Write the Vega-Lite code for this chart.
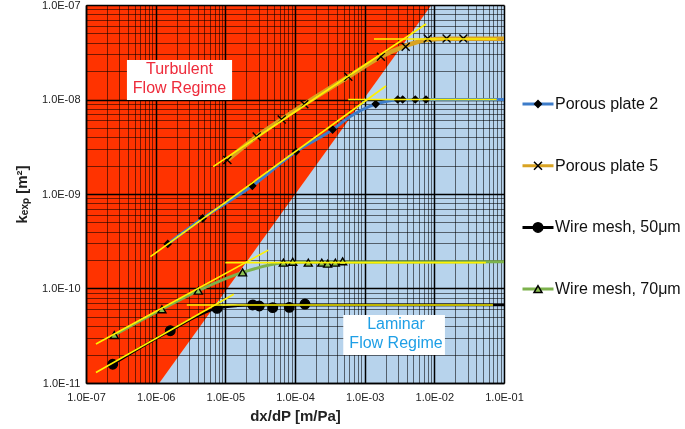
{
  "$schema": "https://vega.github.io/schema/vega-lite/v6.json",
  "width": 418,
  "height": 378,
  "autosize": {"type": "none"},
  "padding": {"left": 86, "top": 5, "right": 181, "bottom": 46},
  "background": "white",
  "view": {"stroke": null, "fill": "white"},
  "config": {"font": "Liberation Sans"},
  "datasets": {
    "red": [
      {"dxdp": 1e-7, "k": 1e-11, "k2": 1e-7},
      {"dxdp": 1.13e-6, "k": 1e-11, "k2": 1e-7},
      {"dxdp": 9.1e-3, "k": 1e-7, "k2": 1e-7}
    ],
    "blue": [
      {"dxdp": 1.13e-6, "k": 1e-11, "k2": 1e-11},
      {"dxdp": 9.1e-3, "k": 1e-7, "k2": 1e-11},
      {"dxdp": 1e-1, "k": 1e-7, "k2": 1e-11}
    ],
    "curves": [
      {"series": "Porous plate 2", "dxdp": 1.49e-6, "k": 2.96e-10},
      {"series": "Porous plate 2", "dxdp": 4.73e-6, "k": 5.53e-10},
      {"series": "Porous plate 2", "dxdp": 2.44e-5, "k": 1.22e-9},
      {"series": "Porous plate 2", "dxdp": 1.03e-4, "k": 2.8e-9},
      {"series": "Porous plate 2", "dxdp": 3.47e-4, "k": 4.8e-9},
      {"series": "Porous plate 2", "dxdp": 6.2e-4, "k": 6.6e-9},
      {"series": "Porous plate 2", "dxdp": 1.44e-3, "k": 8.95e-9},
      {"series": "Porous plate 2", "dxdp": 3e-3, "k": 9.9e-9},
      {"series": "Porous plate 2", "dxdp": 7.6e-3, "k": 1.0e-8},
      {"series": "Porous plate 2", "dxdp": 1e-1, "k": 1.0e-8},
      {"series": "Porous plate 5", "dxdp": 1.07e-5, "k": 2.29e-9},
      {"series": "Porous plate 5", "dxdp": 2.82e-5, "k": 4.05e-9},
      {"series": "Porous plate 5", "dxdp": 6.44e-5, "k": 6.16e-9},
      {"series": "Porous plate 5", "dxdp": 1.36e-4, "k": 8.89e-9},
      {"series": "Porous plate 5", "dxdp": 5.82e-4, "k": 1.74e-8},
      {"series": "Porous plate 5", "dxdp": 1.71e-3, "k": 2.84e-8},
      {"series": "Porous plate 5", "dxdp": 3.88e-3, "k": 3.7e-8},
      {"series": "Porous plate 5", "dxdp": 8e-3, "k": 4.3e-8},
      {"series": "Porous plate 5", "dxdp": 1.5e-2, "k": 4.4e-8},
      {"series": "Porous plate 5", "dxdp": 1e-1, "k": 4.4e-8},
      {"series": "Wire mesh, 50μm", "dxdp": 2.42e-7, "k": 1.58e-11},
      {"series": "Wire mesh, 50μm", "dxdp": 1.62e-6, "k": 3.57e-11},
      {"series": "Wire mesh, 50μm", "dxdp": 7.6e-6, "k": 6.16e-11},
      {"series": "Wire mesh, 50μm", "dxdp": 1.5e-5, "k": 6.55e-11},
      {"series": "Wire mesh, 50μm", "dxdp": 2.5e-5, "k": 6.65e-11},
      {"series": "Wire mesh, 50μm", "dxdp": 1e-1, "k": 6.7e-11},
      {"series": "Wire mesh, 70μm", "dxdp": 2.55e-7, "k": 3.22e-11},
      {"series": "Wire mesh, 70μm", "dxdp": 1.23e-6, "k": 6.03e-11},
      {"series": "Wire mesh, 70μm", "dxdp": 4.09e-6, "k": 9.48e-11},
      {"series": "Wire mesh, 70μm", "dxdp": 1.77e-5, "k": 1.48e-10},
      {"series": "Wire mesh, 70μm", "dxdp": 6.8e-5, "k": 1.87e-10},
      {"series": "Wire mesh, 70μm", "dxdp": 1.2e-4, "k": 1.9e-10},
      {"series": "Wire mesh, 70μm", "dxdp": 1e-1, "k": 1.92e-10}
    ],
    "points": [
      {"sample": "Porous plate 2", "dxdp": 1.49e-6, "k": 2.96e-10},
      {"sample": "Porous plate 2", "dxdp": 4.73e-6, "k": 5.53e-10},
      {"sample": "Porous plate 2", "dxdp": 2.44e-5, "k": 1.22e-9},
      {"sample": "Porous plate 2", "dxdp": 1.03e-4, "k": 2.8e-9},
      {"sample": "Porous plate 2", "dxdp": 3.47e-4, "k": 4.8e-9},
      {"sample": "Porous plate 2", "dxdp": 1.44e-3, "k": 8.95e-9},
      {"sample": "Porous plate 2", "dxdp": 2.98e-3, "k": 1.0e-8},
      {"sample": "Porous plate 2", "dxdp": 3.51e-3, "k": 1.0e-8},
      {"sample": "Porous plate 2", "dxdp": 5.33e-3, "k": 1.0e-8},
      {"sample": "Porous plate 2", "dxdp": 7.59e-3, "k": 1.0e-8},
      {"sample": "Porous plate 5", "dxdp": 1.07e-5, "k": 2.29e-9},
      {"sample": "Porous plate 5", "dxdp": 2.82e-5, "k": 4.05e-9},
      {"sample": "Porous plate 5", "dxdp": 6.44e-5, "k": 6.16e-9},
      {"sample": "Porous plate 5", "dxdp": 1.36e-4, "k": 8.89e-9},
      {"sample": "Porous plate 5", "dxdp": 5.82e-4, "k": 1.74e-8},
      {"sample": "Porous plate 5", "dxdp": 1.71e-3, "k": 2.84e-8},
      {"sample": "Porous plate 5", "dxdp": 3.88e-3, "k": 3.62e-8},
      {"sample": "Porous plate 5", "dxdp": 8.03e-3, "k": 4.43e-8},
      {"sample": "Porous plate 5", "dxdp": 1.5e-2, "k": 4.43e-8},
      {"sample": "Porous plate 5", "dxdp": 2.61e-2, "k": 4.43e-8},
      {"sample": "Wire mesh, 50μm", "dxdp": 2.42e-7, "k": 1.58e-11},
      {"sample": "Wire mesh, 50μm", "dxdp": 1.62e-6, "k": 3.57e-11},
      {"sample": "Wire mesh, 50μm", "dxdp": 7.6e-6, "k": 6.16e-11},
      {"sample": "Wire mesh, 50μm", "dxdp": 2.47e-5, "k": 6.7e-11},
      {"sample": "Wire mesh, 50μm", "dxdp": 3.07e-5, "k": 6.53e-11},
      {"sample": "Wire mesh, 50μm", "dxdp": 4.79e-5, "k": 6.27e-11},
      {"sample": "Wire mesh, 50μm", "dxdp": 8.28e-5, "k": 6.32e-11},
      {"sample": "Wire mesh, 50μm", "dxdp": 1.39e-4, "k": 6.85e-11},
      {"sample": "Wire mesh, 70μm", "dxdp": 2.55e-7, "k": 3.22e-11},
      {"sample": "Wire mesh, 70μm", "dxdp": 1.23e-6, "k": 6.03e-11},
      {"sample": "Wire mesh, 70μm", "dxdp": 4.09e-6, "k": 9.48e-11},
      {"sample": "Wire mesh, 70μm", "dxdp": 1.77e-5, "k": 1.48e-10},
      {"sample": "Wire mesh, 70μm", "dxdp": 6.8e-5, "k": 1.875e-10},
      {"sample": "Wire mesh, 70μm", "dxdp": 9.27e-5, "k": 1.92e-10},
      {"sample": "Wire mesh, 70μm", "dxdp": 1.55e-4, "k": 1.875e-10},
      {"sample": "Wire mesh, 70μm", "dxdp": 2.42e-4, "k": 1.875e-10},
      {"sample": "Wire mesh, 70μm", "dxdp": 2.94e-4, "k": 1.83e-10},
      {"sample": "Wire mesh, 70μm", "dxdp": 3.79e-4, "k": 1.875e-10},
      {"sample": "Wire mesh, 70μm", "dxdp": 4.83e-4, "k": 1.94e-10}
    ],
    "fits": [
      {"fit": "p2 turbulent", "dxdp": 8.4e-7, "k": 2.17e-10},
      {"fit": "p2 turbulent", "dxdp": 2.02e-3, "k": 1.39e-8},
      {"fit": "p2 laminar", "dxdp": 5.8e-4, "k": 1.0e-8},
      {"fit": "p2 laminar", "dxdp": 7.85e-2, "k": 1.0e-8},
      {"fit": "p5 turbulent", "dxdp": 6.7e-6, "k": 1.95e-9},
      {"fit": "p5 turbulent", "dxdp": 7.6e-3, "k": 6.3e-8},
      {"fit": "p5 laminar", "dxdp": 1.36e-3, "k": 4.37e-8},
      {"fit": "p5 laminar", "dxdp": 7.85e-2, "k": 4.37e-8},
      {"fit": "w50 turbulent", "dxdp": 1.39e-7, "k": 1.29e-11},
      {"fit": "w50 turbulent", "dxdp": 1.32e-5, "k": 8.69e-11},
      {"fit": "w50 laminar", "dxdp": 2.8e-6, "k": 6.7e-11},
      {"fit": "w50 laminar", "dxdp": 6.95e-2, "k": 6.7e-11},
      {"fit": "w70 turbulent", "dxdp": 1.39e-7, "k": 2.59e-11},
      {"fit": "w70 turbulent", "dxdp": 4.14e-5, "k": 2.55e-10},
      {"fit": "w70 laminar", "dxdp": 1e-5, "k": 1.88e-10},
      {"fit": "w70 laminar", "dxdp": 5.5e-2, "k": 1.88e-10}
    ],
    "boxes": [
      {"dxdp": 3.87e-7, "dxdp2": 1.25e-5, "k": 9.9e-9, "k2": 2.62e-8},
      {"dxdp": 4.93e-4, "dxdp2": 1.42e-2, "k": 1.98e-11, "k2": 5.25e-11}
    ]
  },
  "layer": [
    {
      "data": {"name": "red"},
      "mark": {"type": "area", "color": "#FF3300", "blend": "multiply"},
      "encoding": {
        "x": {
          "field": "dxdp", "type": "quantitative",
          "scale": {"type": "log", "domain": [1e-7, 1e-1], "nice": false},
          "axis": {
            "title": "dx/dP [m/Pa]",
            "values": [1e-7,2e-7,3e-7,4e-7,5e-7,6e-7,7e-7,8e-7,9e-7,1e-6,2e-6,3e-6,4e-6,5e-6,6e-6,7e-6,8e-6,9e-6,1e-5,2e-5,3e-5,4e-5,5e-5,6e-5,7e-5,8e-5,9e-5,1e-4,2e-4,3e-4,4e-4,5e-4,6e-4,7e-4,8e-4,9e-4,1e-3,2e-3,3e-3,4e-3,5e-3,6e-3,7e-3,8e-3,9e-3,1e-2,2e-2,3e-2,4e-2,5e-2,6e-2,7e-2,8e-2,9e-2,1e-1],
            "labelExpr": "abs(log(datum.value)/LN10 - round(log(datum.value)/LN10)) < 0.001 ? '1.0E-' + (round(-log(datum.value)/LN10) < 10 ? '0' : '') + round(-log(datum.value)/LN10) : ''",
            "grid": true,
            "gridColor": "black",
            "gridOpacity": {"condition": {"test": "abs(log(datum.value)/LN10 - round(log(datum.value)/LN10)) < 0.001", "value": 1}, "value": 0.55},
            "gridWidth": {"condition": {"test": "abs(log(datum.value)/LN10 - round(log(datum.value)/LN10)) < 0.001", "value": 1.5}, "value": 1},
            "ticks": false,
            "domainColor": "black",
            "domainWidth": 1.5,
            "labelOverlap": false,
            "labelFlush": false,
            "labelBound": false,
            "labelFont": "Liberation Sans",
            "labelFontSize": 11,
            "labelColor": "#222222",
            "labelPadding": 8,
            "titleFont": "Liberation Sans",
            "titleFontSize": 15,
            "titleFontWeight": "bold",
            "titleColor": "#222222",
            "titlePadding": 6
          }
        },
        "y": {
          "field": "k", "type": "quantitative",
          "scale": {"type": "log", "domain": [1e-11, 1e-7], "nice": false},
          "axis": {
            "title": "kₑₓₚ [m²]",
            "values": [1e-11,2e-11,3e-11,4e-11,5e-11,6e-11,7e-11,8e-11,9e-11,1e-10,2e-10,3e-10,4e-10,5e-10,6e-10,7e-10,8e-10,9e-10,1e-9,2e-9,3e-9,4e-9,5e-9,6e-9,7e-9,8e-9,9e-9,1e-8,2e-8,3e-8,4e-8,5e-8,6e-8,7e-8,8e-8,9e-8,1e-7],
            "labelExpr": "abs(log(datum.value)/LN10 - round(log(datum.value)/LN10)) < 0.001 ? '1.0E-' + (round(-log(datum.value)/LN10) < 10 ? '0' : '') + round(-log(datum.value)/LN10) : ''",
            "grid": true,
            "gridColor": "black",
            "gridOpacity": {"condition": {"test": "abs(log(datum.value)/LN10 - round(log(datum.value)/LN10)) < 0.001", "value": 1}, "value": 0.55},
            "gridWidth": {"condition": {"test": "abs(log(datum.value)/LN10 - round(log(datum.value)/LN10)) < 0.001", "value": 1.5}, "value": 1},
            "ticks": false,
            "domainColor": "black",
            "domainWidth": 1.5,
            "labelOverlap": false,
            "labelBound": false,
            "labelFlush": false,
            "labelFont": "Liberation Sans",
            "labelFontSize": 11,
            "labelColor": "#222222",
            "labelPadding": 6,
            "titleFont": "Liberation Sans",
            "titleFontSize": 15,
            "titleFontWeight": "bold",
            "titleColor": "#222222",
            "titlePadding": 12
          }
        },
        "y2": {"field": "k2"}
      }
    },
    {
      "data": {"name": "blue"},
      "mark": {"type": "area", "color": "#B7D3EC", "blend": "multiply"},
      "encoding": {
        "x": {"field": "dxdp", "type": "quantitative", "scale": {"type": "log", "domain": [1e-7, 1e-1], "nice": false}},
        "y": {"field": "k", "type": "quantitative", "scale": {"type": "log", "domain": [1e-11, 1e-7], "nice": false}},
        "y2": {"field": "k2"}
      }
    },
    {
      "data": {"name": "curves"},
      "mark": {"type": "line", "interpolate": "monotone"},
      "encoding": {
        "x": {"field": "dxdp", "type": "quantitative", "scale": {"type": "log", "domain": [1e-7, 1e-1], "nice": false}},
        "y": {"field": "k", "type": "quantitative", "scale": {"type": "log", "domain": [1e-11, 1e-7], "nice": false}},
        "color": {
          "field": "series", "type": "nominal",
          "scale": {"range": ["#3D7CC9", "#D9A322", "#000000", "#7DB24C"]},
          "legend": {
            "orient": "none", "legendX": 435, "legendY": 89, "title": null, "padding": 0,
            "symbolType": "stroke", "symbolSize": 961, "symbolStrokeWidth": 3,
            "clipHeight": 20, "rowPadding": 41.7,
            "labelFont": "Liberation Sans", "labelFontSize": 16, "labelColor": "#111111", "labelOffset": 0, "labelLimit": 200,
            "zindex": 1
          }
        },
        "strokeWidth": {
          "field": "series", "type": "nominal",
          "scale": {"type": "ordinal", "domain": ["Wire mesh, 70μm", "Wire mesh, 50μm", "Porous plate 5", "Porous plate 2"], "range": [3, 2.5, 4.5, 3]},
          "legend": null
        }
      }
    },
    {
      "data": {"name": "points"},
      "mark": {"type": "point", "filled": true, "stroke": "black", "strokeWidth": 1.4, "opacity": 1, "fillOpacity": 1},
      "encoding": {
        "x": {"field": "dxdp", "type": "quantitative", "scale": {"type": "log", "domain": [1e-7, 1e-1], "nice": false}},
        "y": {"field": "k", "type": "quantitative", "scale": {"type": "log", "domain": [1e-11, 1e-7], "nice": false}},
        "shape": {
          "field": "sample", "type": "nominal",
          "scale": {"domain": ["Porous plate 2", "Porous plate 5", "Wire mesh, 50μm", "Wire mesh, 70μm"], "range": ["diamond", "M-1,-1L1,1M-1,1L1,-1", "circle", "triangle-up"]},
          "legend": {"orient": "none", "legendX": 444, "legendY": 89, "title": null, "padding": 0, "clipHeight": 20, "rowPadding": 41.7, "labelExpr": "''", "labelFontSize": 16, "zindex": 2, "encode": {"symbols": {"update": {"stroke": {"value": "black"}, "strokeWidth": {"value": 1.3}}}}}
        },
        "fill": {
          "field": "sample", "type": "nominal",
          "scale": {"domain": ["Porous plate 2", "Porous plate 5", "Wire mesh, 50μm", "Wire mesh, 70μm"], "range": ["#000000", "transparent", "#000000", "#8DC050"]},
          "legend": {"orient": "none", "legendX": 444, "legendY": 89, "title": null, "padding": 0, "clipHeight": 20, "rowPadding": 41.7, "labelExpr": "''", "labelFontSize": 16, "zindex": 2, "encode": {"symbols": {"update": {"stroke": {"value": "black"}, "strokeWidth": {"value": 1.3}}}}}
        },
        "size": {
          "field": "sample", "type": "nominal",
          "scale": {"type": "ordinal", "domain": ["Porous plate 2", "Porous plate 5", "Wire mesh, 50μm", "Wire mesh, 70μm"], "range": [45, 64, 90, 64]},
          "legend": {"orient": "none", "legendX": 444, "legendY": 89, "title": null, "padding": 0, "clipHeight": 20, "rowPadding": 41.7, "labelExpr": "''", "labelFontSize": 16, "zindex": 2, "encode": {"symbols": {"update": {"stroke": {"value": "black"}, "strokeWidth": {"value": 1.3}}}}}
        }
      }
    },
    {
      "data": {"name": "fits"},
      "mark": {"type": "line", "color": "#FFF200", "strokeWidth": 1.6},
      "encoding": {
        "x": {"field": "dxdp", "type": "quantitative", "scale": {"type": "log", "domain": [1e-7, 1e-1], "nice": false}},
        "y": {"field": "k", "type": "quantitative", "scale": {"type": "log", "domain": [1e-11, 1e-7], "nice": false}},
        "detail": {"field": "fit", "type": "nominal"}
      }
    },
    {
      "data": {"name": "boxes"},
      "mark": {"type": "rect", "fill": "white"},
      "encoding": {
        "x": {"field": "dxdp", "type": "quantitative", "scale": {"type": "log", "domain": [1e-7, 1e-1], "nice": false}},
        "x2": {"field": "dxdp2"},
        "y": {"field": "k", "type": "quantitative", "scale": {"type": "log", "domain": [1e-11, 1e-7], "nice": false}},
        "y2": {"field": "k2"}
      }
    },
    {
      "data": {"values": [{"dxdp": 2.2e-6, "k": 2.1e-8, "label": "Turbulent\nFlow Regime"}]},
      "mark": {"type": "text", "font": "Liberation Sans", "fontSize": 16, "color": "#EE2B3B", "lineBreak": "\n", "lineHeight": 19, "align": "center", "baseline": "middle"},
      "encoding": {
        "x": {"field": "dxdp", "type": "quantitative", "scale": {"type": "log", "domain": [1e-7, 1e-1], "nice": false}},
        "y": {"field": "k", "type": "quantitative", "scale": {"type": "log", "domain": [1e-11, 1e-7], "nice": false}},
        "text": {"field": "label"}
      }
    },
    {
      "data": {"values": [{"dxdp": 2.82e-3, "k": 4.18e-11, "label": "Laminar\nFlow Regime"}]},
      "mark": {"type": "text", "font": "Liberation Sans", "fontSize": 16, "color": "#1E9FE6", "lineBreak": "\n", "lineHeight": 19, "align": "center", "baseline": "middle"},
      "encoding": {
        "x": {"field": "dxdp", "type": "quantitative", "scale": {"type": "log", "domain": [1e-7, 1e-1], "nice": false}},
        "y": {"field": "k", "type": "quantitative", "scale": {"type": "log", "domain": [1e-11, 1e-7], "nice": false}},
        "text": {"field": "label"}
      }
    }
  ]
}
